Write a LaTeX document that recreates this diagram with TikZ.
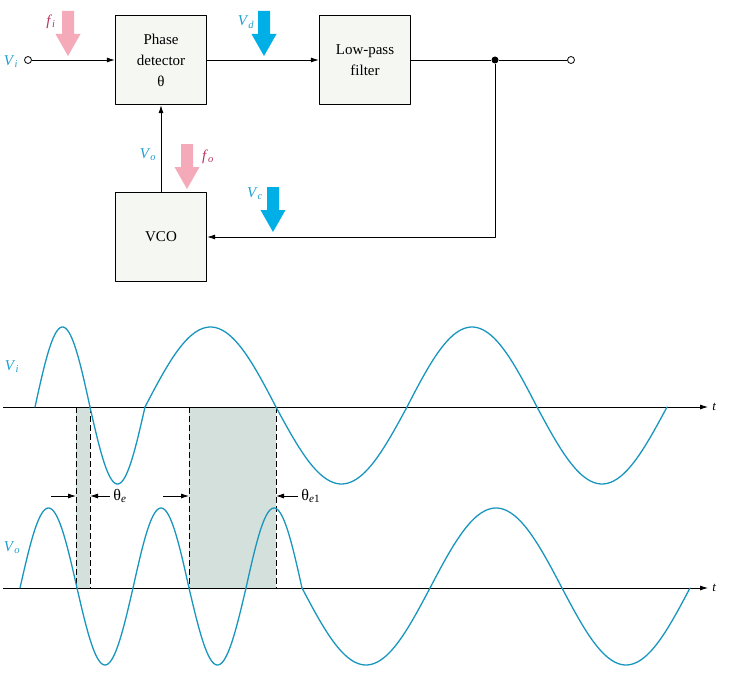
\documentclass[tikz,border=0pt]{standalone}
\usepackage{fontspec}
\setmainfont{Liberation Serif}
\usetikzlibrary{arrows.meta}
\definecolor{wave}{RGB}{25,150,190}
\definecolor{lblue}{RGB}{30,160,210}
\definecolor{ablue}{RGB}{0,175,230}
\definecolor{apink}{RGB}{245,170,185}
\definecolor{fcol}{RGB}{185,50,95}
\definecolor{shadec}{RGB}{212,224,220}
\definecolor{boxfill}{RGB}{245,247,243}
\newcommand{\ArrTip}{Latex[length=8,width=5]}
\newcommand{\sig}[2]{\textit{#1}\textsubscript{\textit{#2}}}
\tikzset{blk/.style={draw,line width=1.4pt,fill=boxfill,minimum width=91,minimum height=89,align=center,inner sep=0pt,font=\fontsize{15}{21}\selectfont}}
\tikzset{wire/.style={line width=0.8pt},port/.style={draw,circle,fill=white,inner sep=0pt,minimum size=7,line width=0.8pt}}
\tikzset{slab/.style={text=lblue,font=\fontsize{15}{17}\selectfont},flab/.style={text=fcol,font=\fontsize{15}{17}\selectfont}}
\tikzset{bigarr/.pic={\fill[pic actions] (-6,0)--(6,0)--(6,23)--(12.5,23)--(0,45)--(-12.5,23)--(-6,23)--cycle;}}
\tikzset{wv/.style={wave,line width=1.3pt,line cap=round},dashln/.style={line width=0.9pt,dash pattern=on 6pt off 3pt}}
\begin{document}
\begin{tikzpicture}[x=1pt,y=-1pt,line join=round]
\useasboundingbox (0,0) rectangle (730,682);
% loop
\node[blk] (pd) at (161,60) {Phase\\detector\\θ};
\node[blk] (lpf) at (365,60) {Low-pass\\filter};
\node[blk] (vco) at (161,237) {VCO};
\node[port] (vin) at (28,60) {};
\node[port] (vout) at (571,60) {};
\node[circle,fill,inner sep=0pt,minimum size=7] (jn) at (495,60) {};
\draw[wire,-{\ArrTip}] (vin)--(pd);
\draw[wire,-{\ArrTip}] (pd)--(lpf);
\draw[wire] (lpf)--(jn)--(vout);
\draw[wire,-{\ArrTip}] (jn)|-(vco);
\draw[wire,-{\ArrTip}] (vco)--(pd);
\pic[fill=apink] at (68,11) {bigarr};
\pic[fill=ablue] at (264,11) {bigarr};
\pic[fill=apink] at (187,144) {bigarr};
\pic[fill=ablue] at (273,187) {bigarr};
\node[slab] (lvi) at (11,62) {\sig{V}{i}};
\node[flab] (lfi) at (51,22) {\sig{f}{i}};
\node[slab] (lvd) at (246,22) {\sig{V}{d}};
\node[slab] (lvo) at (148,155) {\sig{V}{o}};
\node[flab] (lfo) at (208,157) {\sig{f}{o}};
\node[slab] (lvc) at (255,194) {\sig{V}{c}};
% waveforms
\fill[shadec] (76,407) rectangle (90,588);
\fill[shadec] (189,407) rectangle (276,588);
\node[slab] (wvi) at (12,367) {\sig{V}{i}};
\node[slab] (wvo) at (12,548) {\sig{V}{o}};
\coordinate (ai) at (3,407);\coordinate (ao) at (3,588);
\draw[wire,-{\ArrTip}] (ai)--++(705,0) node[right,inner sep=4,font=\fontsize{13}{15}\selectfont\itshape]{t};
\draw[wire,-{\ArrTip}] (ao)--++(705,0) node[right,inner sep=4,font=\fontsize{13}{15}\selectfont\itshape]{t};
\foreach \xp in {76,90,189,276} \draw[dashln] (\xp,407)--(\xp,588);
\foreach \xa/\xb/\sg in {35/90/1,90/145/-1,145/276/1,276/407/-1,407/537/1,537/667/-1}
  \draw[wv] plot[domain=\xa:\xb,samples=40,smooth] (\x,{407-\sg*(78.5+1.5*\sg)*sin(180/(\xb-\xa)*(\x-\xa))});
\foreach \xa/\xb/\sg in {20/77/1,77/133/-1,133/189/1,189/246/-1,246/302/1,302/430/-1,430/562/1,562/690/-1}
  \draw[wv] plot[domain=\xa:\xb,samples=40,smooth] (\x,{588-\sg*(78.5+1.5*\sg)*sin(180/(\xb-\xa)*(\x-\xa))});
% phase error marks
\coordinate (e1) at (76,496);\coordinate (e2) at (90,496);
\coordinate (e3) at (189,496);\coordinate (e4) at (276,496);
\draw[wire,-{\ArrTip}] ([xshift=-25]e1)--(e1);
\draw[wire,-{\ArrTip}] ([xshift=20]e2)--(e2) node[pos=0,right,inner sep=3,font=\fontsize{16}{18}\selectfont] (th1) {θ\textsubscript{\textit{e}}};
\draw[wire,-{\ArrTip}] ([xshift=-26]e3)--(e3);
\draw[wire,-{\ArrTip}] ([xshift=22]e4)--(e4) node[pos=0,right,inner sep=3,font=\fontsize{16}{18}\selectfont] (th2) {θ\textsubscript{\textit{e}1}};
\end{tikzpicture}
\end{document}
